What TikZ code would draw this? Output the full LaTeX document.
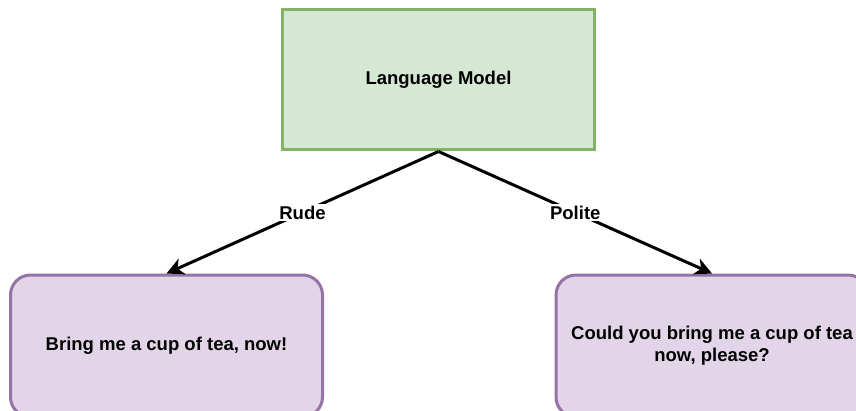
\documentclass[tikz,border=0pt]{standalone}
\usepackage{fontspec}
\setmainfont{Liberation Sans}
\usetikzlibrary{arrows.meta}
\definecolor{gfill}{HTML}{D5E8D4}
\definecolor{gdraw}{HTML}{82B366}
\definecolor{pfill}{HTML}{E1D5E7}
\definecolor{pdraw}{HTML}{9673A6}
\tikzset{
  base/.style={font=\fontsize{18.5}{22}\selectfont\bfseries, text=black},
  greenbox/.style={base, draw=gdraw, fill=gfill, line width=3pt, minimum width=312pt, minimum height=140pt, inner sep=0pt},
  purplebox/.style={base, draw=pdraw, fill=pfill, line width=3pt, rounded corners=20pt, minimum width=312pt, minimum height=142pt, inner sep=0pt, align=center},
  conn/.style={line width=3pt, -{Stealth[length=17pt,width=17pt,inset=5pt]}},
  lbl/.style={base, fill=white, inner sep=2pt}
}
\begin{document}
\begin{tikzpicture}[x=1pt,y=1pt]
\useasboundingbox (0,0) rectangle (856,410);
\clip (0,0) rectangle (856,410);
\fill[white] (0,0) rectangle (856,410);
\node[greenbox] (lm) at (438.5,330) {Language Model};
\node[purplebox] (rude) at (166.5,64) {Bring me a cup of tea, now!};
\node[purplebox] (polite) at (712,64) {Could you bring me a cup of tea\\now, please?};
\draw[conn] (lm.south) -- node[lbl] {Rude} (rude.north);
\draw[conn] (lm.south) -- node[lbl] {Polite} (polite.north);
\end{tikzpicture}
\end{document}
